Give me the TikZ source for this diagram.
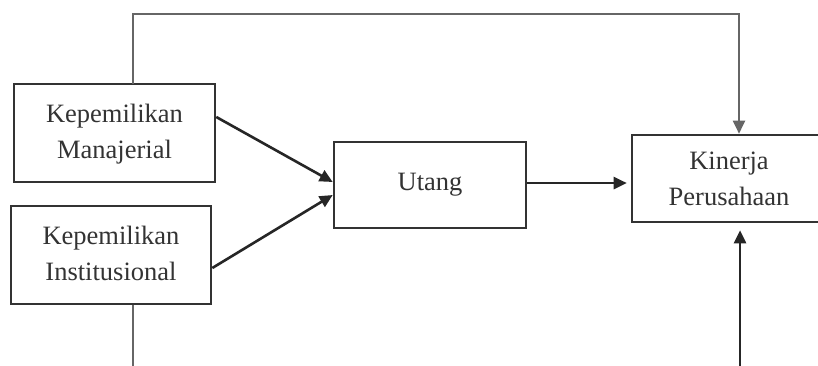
\documentclass[tikz,border=0pt]{standalone}
\usepackage{fontspec}
\setmainfont{Liberation Serif}
\usetikzlibrary{arrows.meta}
\tikzset{
  box/.style={draw=black!80, line width=2.6pt, rectangle, inner sep=0pt, align=center,
    font=\fontsize{26.5}{36}\selectfont, text=black!80},
  conn/.style={draw=black!85, line width=2.6pt, -{Triangle[length=13pt,width=12pt]}},
  thin/.style={draw=black!60, line width=2pt},
}
\begin{document}
\begin{tikzpicture}[x=1pt,y=-1pt]
\clip (0,0) rectangle (818,365);
\fill[white] (0,0) rectangle (818,365);
\node[box, minimum width=201pt, minimum height=98pt] (KM) at (114.5,133) {\raisebox{3pt}{\begin{tabular}{@{}c@{}}Kepemilikan\\[0pt]Manajerial\end{tabular}}};
\node[box, minimum width=200pt, minimum height=98pt] (KI) at (111,255) {\raisebox{3pt}{\begin{tabular}{@{}c@{}}Kepemilikan\\[0pt]Institusional\end{tabular}}};
\node[box, minimum width=192pt, minimum height=86pt] (U) at (430,185) {\raisebox{6pt}{Utang}};
\node[box, minimum width=194pt, minimum height=87pt] (KP) at (729,178.5) {Kinerja\\Perusahaan};
\coordinate (tl) at (133,14);
\coordinate (tr) at (739,14);
\coordinate (bl) at (133,385);
\coordinate (br) at (740,385);
\draw[conn] ([yshift=16pt]KM.east) -- ([yshift=3pt]U.west);
\draw[conn] ([yshift=-13pt]KI.east) -- ([yshift=-10pt]U.west);
\draw[conn, shorten >=4pt] ([yshift=2pt]U.east) -- ([yshift=-4.5pt]KP.west);
\draw[thin, line cap=rect, -{Triangle[length=13pt,width=12pt]}] (KM.north -| tl) -- (tl) -- (tr) -- (KP.north -| tr);
\draw[thin] (KI.south -| bl) -- (bl) -- (br);
\draw[conn, shorten >=7pt] (br) -- (KP.south -| br);
\end{tikzpicture}
\end{document}
